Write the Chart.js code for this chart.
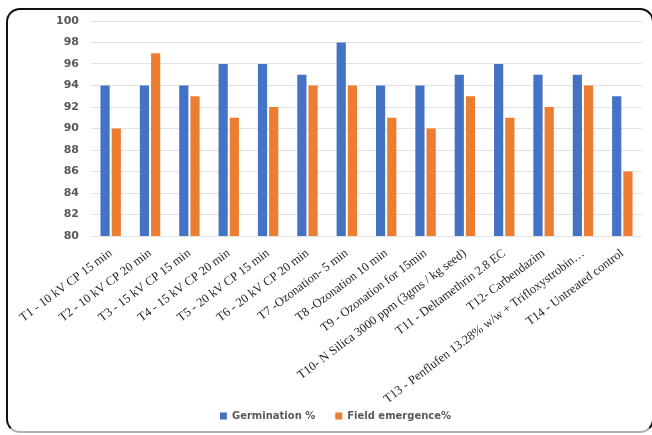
<!DOCTYPE html>
<html>
<head>
<meta charset="utf-8">
<script src="https://cdn.jsdelivr.net/npm/chart.js@4.4.1/dist/chart.umd.min.js"></script>
<style>
  html, body { margin: 0; padding: 0; background: #ffffff; }
  #wrap { position: relative; width: 652px; height: 435px; overflow: hidden; }
  #frame {
    position: absolute; left: 6px; top: 8px; width: 648px; height: 425px;
    border: 2px solid #111111; border-bottom-color: #b0b0b0;
    border-radius: 14px; box-sizing: border-box; pointer-events: none;
  }
  canvas { position: absolute; left: 0; top: 0; }
</style>
</head>
<body>
<div id="wrap">
  <canvas id="chart" width="652" height="435"></canvas>
  <div id="frame"></div>
</div>
<script>
// Treatments
const treatments = [
  "T1 - 10 kV CP 15 min",
  "T2 - 10 kV CP 20 min",
  "T3 - 15 kV CP 15 min",
  "T4 - 15 kV CP 20 min",
  "T5 - 20 kV CP 15 min",
  "T6 - 20 kV CP 20 min",
  "T7 -Ozonation- 5 min",
  "T8 -Ozonation 10 min",
  "T9 - Ozonation for 15min",
  "T10- N Silica 3000 ppm (3gms / kg seed)",
  "T11 - Deltamethrin 2.8 EC",
  "T12- Carbendazim",
  "T13 - Penflufen 13.28% w/w + Trifloxystrobin\u2026",
  "T14 - Untreated control"
];

// Percent values per treatment
const germination = [94, 94, 94, 96, 96, 95, 98, 94, 94, 95, 96, 95, 95, 93];
const fieldEmergence = [90, 97, 93, 91, 92, 94, 94, 91, 90, 93, 91, 92, 94, 86];

// Value axis
const yMin = 80;
const yMax = 100;
const yStep = 2;

new Chart(document.getElementById('chart'), {
  type: 'bar',
  data: {
    labels: treatments,
    datasets: [
      {
        label: 'Germination %',
        data: germination,
        backgroundColor: '#4472C4',
        categoryPercentage: 0.57,
        barPercentage: 0.82
      },
      {
        label: 'Field emergence%',
        data: fieldEmergence,
        backgroundColor: '#ED7D31',
        categoryPercentage: 0.57,
        barPercentage: 0.82
      }
    ]
  },
  options: {
    responsive: false,
    animation: false,
    layout: { padding: { top: 21, right: 10, left: 29, bottom: 4 } },
    plugins: {
      tooltip: { enabled: false },
      legend: {
        position: 'bottom',
        labels: {
          boxWidth: 7,
          boxHeight: 7,
          padding: 20,
          color: '#595959',
          font: { family: 'DejaVu Sans', size: 10, weight: 'bold' }
        }
      }
    },
    scales: {
      x: {
        grid: { display: false },
        border: { display: false },
        afterFit: (axis) => {
          // fixed label band; long slanted labels may run past the plot's left edge
          axis.height = 155;
          axis.paddingLeft = 0;
          axis.paddingRight = 0;
        },
        afterUpdate: (axis) => {
          // let the longest slanted label extend below the band without being cut
          axis._computeLabelArea = () => undefined;
        },
        ticks: {
          autoSkip: false,
          minRotation: 37,
          maxRotation: 37,
          padding: 2,
          color: '#262626',
          font: { family: 'Liberation Serif', size: 12.5 }
        }
      },
      y: {
        min: yMin,
        max: yMax,
        afterFit: (axis) => { axis.width = 62; },
        grid: { color: '#e2e2e2', drawTicks: false },
        border: { display: false },
        ticks: {
          stepSize: yStep,
          padding: 12,
          color: '#595959',
          font: { family: 'DejaVu Sans', size: 11, weight: 'bold' }
        }
      }
    }
  }
});
</script>
</body>
</html>
